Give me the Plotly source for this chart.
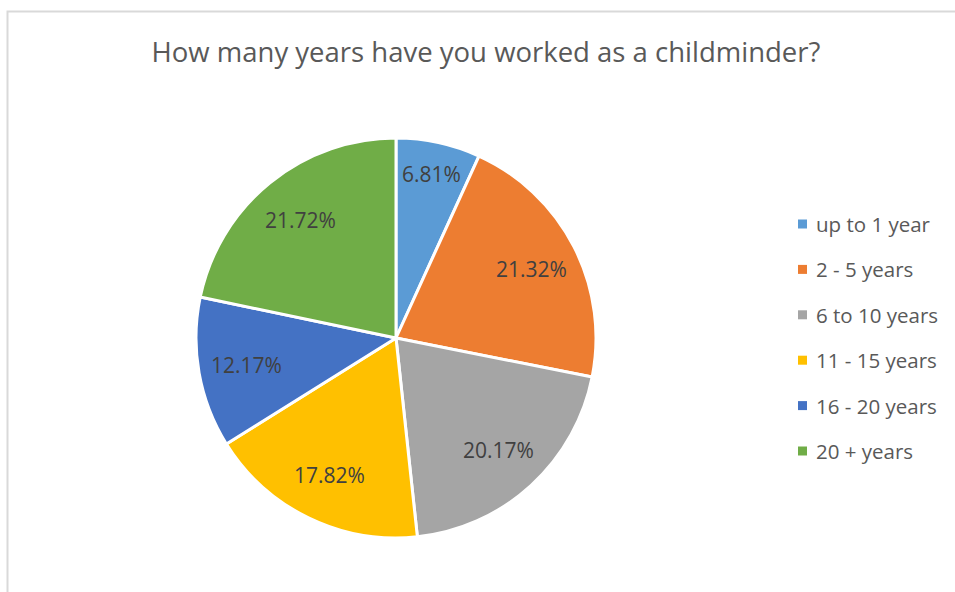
import math
import plotly.graph_objects as go

# Survey answers: years worked as a childminder (share of respondents, %)
categories = ["up to 1 year", "2 - 5 years", "6 to 10 years",
              "11 - 15 years", "16 - 20 years", "20 + years"]
shares = [6.81, 21.32, 20.17, 17.82, 12.17, 21.72]
colors = ["#5B9BD5", "#ED7D31", "#A5A5A5", "#FFC000", "#4472C4", "#70AD47"]
title_text = "How many years have you worked as a childminder?"

W, H = 955, 592
FONT = "Open Sans"

# Pie placement in pixels (centre and radius)
CX, CY, R = 396, 338, 200

fig = go.Figure(
    go.Pie(
        labels=categories,
        values=shares,
        sort=False,
        direction="clockwise",
        rotation=0,
        marker=dict(colors=colors, line=dict(color="white", width=3)),
        textinfo="none",
        hoverinfo="label+value",
        showlegend=False,
        domain=dict(x=[(CX - R) / W, (CX + R) / W],
                    y=[1 - (CY + R) / H, 1 - (CY - R) / H]),
    )
)

annotations = []
shapes = []

# Data labels placed along each slice's mid-angle (clockwise from 12 o'clock)
total = sum(shares)
cum = 0.0
for v in shares:
    mid = (cum + v / 2) / total * 2 * math.pi
    cum += v
    frac = 0.84 if v / total < 0.10 else 0.76
    px = CX + frac * R * math.sin(mid)
    py = CY - frac * R * math.cos(mid)
    annotations.append(dict(
        text=f"{v:.2f}%", xref="paper", yref="paper",
        x=px / W, y=1 - py / H, xanchor="center", yanchor="middle",
        showarrow=False, font=dict(family=FONT, size=21, color="#404040"),
    ))

# Legend drawn as coloured squares with labels, one row per category
legend_x = 802.5
legend_y0 = 224
legend_step = 45.4
for i, (cat, col) in enumerate(zip(categories, colors)):
    yc = legend_y0 + i * legend_step
    shapes.append(dict(
        type="rect", xref="paper", yref="paper",
        x0=(legend_x - 4.5) / W, x1=(legend_x + 4.5) / W,
        y0=1 - (yc + 4.5) / H, y1=1 - (yc - 4.5) / H,
        line=dict(width=0), fillcolor=col,
    ))
    annotations.append(dict(
        text=cat, xref="paper", yref="paper",
        x=(legend_x + 11) / W, y=1 - yc / H,
        xanchor="left", yanchor="middle", showarrow=False,
        font=dict(family=FONT, size=20.5, color="#595959"),
    ))

# Chart frame: light grey border running off the right and bottom edges
shapes.append(dict(
    type="rect", xref="paper", yref="paper",
    x0=7.5 / W, x1=1.2, y0=-0.2, y1=1 - 11.5 / H,
    line=dict(color="#D9D9D9", width=2), fillcolor="rgba(0,0,0,0)", layer="below",
))

fig.update_layout(
    width=W, height=H,
    margin=dict(l=0, r=0, t=0, b=0),
    paper_bgcolor="white",
    plot_bgcolor="white",
    title=dict(text=title_text, x=486 / W, xanchor="center",
               y=1 - 52 / H, yanchor="middle",
               font=dict(family=FONT, size=27.5, color="#595959")),
    shapes=shapes,
    annotations=annotations,
)

fig.write_html("out.html")
